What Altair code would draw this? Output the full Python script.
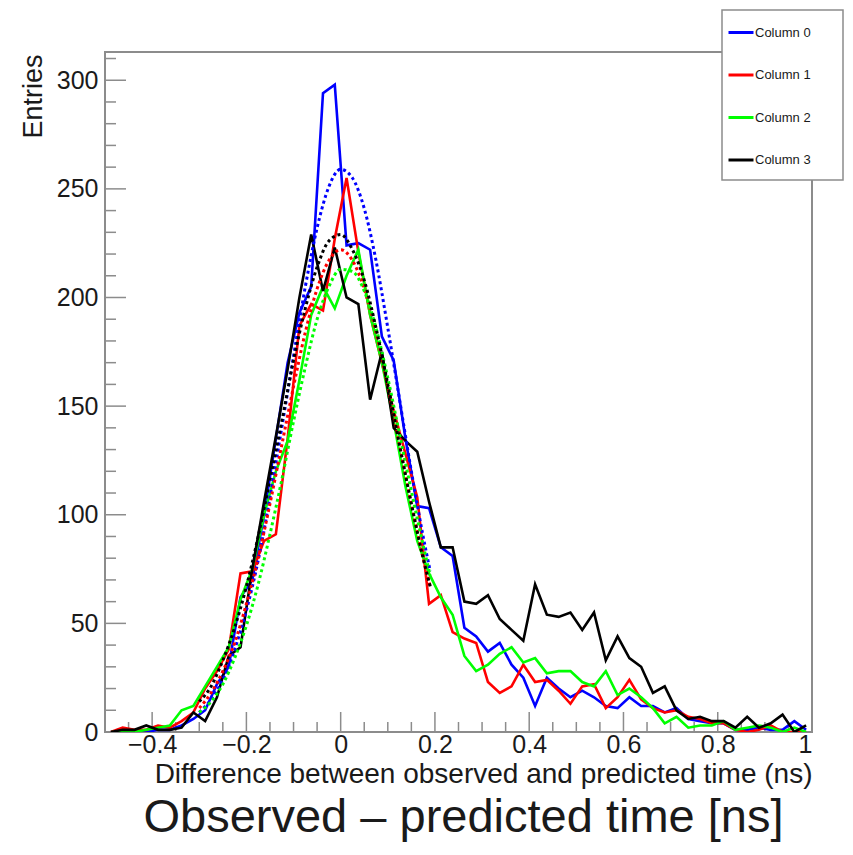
import altair as alt
import pandas as pd

# ---------------- data ----------------
SERIES = ["Column 0", "Column 1", "Column 2", "Column 3"]
COLORS = ["#0000ff", "#ff0000", "#00ff00", "#000000"]

X_MIN, X_MAX, BIN_WIDTH = -0.5, 1.0, 0.025
Y_MAX = 313

COL0 = [0, 1, 0, 0, 1, 1, 3, 6, 10, 22, 30, 62, 70, 100, 135, 170, 193, 205, 294, 298,
        224, 225, 222, 182, 171, 135, 104, 103, 85, 81, 48, 44, 37, 41, 31, 25, 12, 25, 20, 16,
        19, 16, 12, 11, 16, 12, 12, 9, 11, 6, 5, 4, 4, 1, 1, 2, 1, 1, 5, 1]
COL1 = [0, 2, 1, 1, 3, 2, 5, 9, 20, 28, 38, 73, 74, 88, 91, 135, 187, 197, 194, 227,
        255, 221, 192, 170, 148, 128, 108, 59, 63, 46, 43, 41, 23, 18, 21, 31, 23, 24, 19, 13,
        21, 22, 11, 16, 24, 15, 11, 9, 10, 7, 6, 4, 4, 1, 0, 1, 3, 0, 0, 0]
COL2 = [0, 0, 0, 1, 2, 3, 10, 12, 21, 30, 39, 61, 75, 100, 120, 134, 162, 192, 205, 195,
        210, 222, 192, 170, 143, 113, 88, 73, 62, 54, 35, 28, 31, 36, 39, 32, 34, 27, 28, 28,
        23, 21, 28, 17, 20, 16, 11, 4, 7, 2, 3, 3, 5, 1, 2, 3, 2, 0, 2, 0]
COL3 = [0, 1, 1, 3, 1, 1, 2, 9, 5, 16, 35, 39, 75, 106, 136, 167, 200, 229, 203, 223,
        200, 197, 153, 175, 140, 134, 129, 106, 85, 85, 60, 59, 63, 52, 47, 42, 68, 54, 53, 55,
        47, 55, 33, 44, 34, 30, 18, 21, 10, 6, 7, 5, 5, 2, 7, 2, 4, 8, 0, 3]

# dotted fit curves, read at these x positions
FIT_X = [-0.3, -0.275, -0.25, -0.225, -0.2, -0.175, -0.15, -0.125, -0.1, -0.075, -0.05,
         -0.025, 0.0, 0.025, 0.05, 0.075, 0.1, 0.125, 0.15, 0.175, 0.19]
FIT0 = [9, 15, 24, 38, 56, 79, 108, 140, 173, 205, 232, 251, 259, 255, 241, 217, 186, 153, 120, 90, 74]
FIT1 = [11, 18, 28, 41, 59, 80, 105, 132, 159, 184, 204, 217, 222, 217, 204, 184, 159, 132, 105, 80, 67]
FIT2 = [9, 14, 22, 34, 49, 68, 91, 116, 143, 168, 190, 205, 213, 212, 203, 186, 163, 137, 111, 86, 72]
FIT3 = [14, 21, 33, 48, 67, 90, 116, 143, 171, 195, 214, 226, 229, 222, 208, 186, 160, 132, 105, 80, 67]

X_MAJOR = [-0.4, -0.2, 0, 0.2, 0.4, 0.6, 0.8, 1.0]
X_MINOR = [-0.45, -0.35, -0.3, -0.25, -0.15, -0.1, -0.05, 0.05, 0.1, 0.15, 0.25, 0.3, 0.35,
           0.45, 0.5, 0.55, 0.65, 0.7, 0.75, 0.85, 0.9, 0.95]
Y_MAJOR = [0, 50, 100, 150, 200, 250, 300]
Y_MINOR = [10, 20, 30, 40, 60, 70, 80, 90, 110, 120, 130, 140, 160, 170, 180, 190, 210, 220,
           230, 240, 260, 270, 280, 290, 310]

# ---------------- build tables ----------------
centers = [round(X_MIN + BIN_WIDTH * (i + 0.5), 5) for i in range(len(COL0))]
hist_rows = []
for name, vals in zip(SERIES, [COL0, COL1, COL2, COL3]):
    for x, v in zip(centers, vals):
        hist_rows.append({"x": x, "entries": v, "series": name})
hist_df = pd.DataFrame(hist_rows)

W, H = 707, 680
PAD = {"left": 97, "top": 44, "right": 32, "bottom": 110}
FONT = "Liberation Sans"
TXT = "#1a1a1a"
FRAME = "#8c8c8c"

xscale = alt.Scale(domain=[X_MIN, X_MAX], nice=False, zero=False)
yscale = alt.Scale(domain=[0, Y_MAX], nice=False, zero=True)
cscale = alt.Scale(domain=SERIES, range=COLORS)

x_axis = alt.Axis(values=X_MAJOR, format="~g", ticks=False, domain=False, grid=False,
                  labelFont=FONT, labelFontSize=25, labelColor=TXT, labelPadding=0,
                  title="Difference between observed and predicted time (ns)",
                  titleFont=FONT, titleFontSize=28, titleFontWeight="normal", titleColor=TXT,
                  titleAnchor="end", titleAlign="right", titleX=W, titleY=50.7,
                  titleBaseline="alphabetic")
y_axis = alt.Axis(values=Y_MAJOR, ticks=False, domain=False, grid=False,
                  labelFont=FONT, labelFontSize=25, labelColor=TXT, labelPadding=7,
                  title="Entries", titleFont=FONT, titleFontSize=27, titleFontWeight="normal",
                  titleColor=TXT, titleAngle=270, titleAlign="right", titleX=-64, titleY=2,
                  titleBaseline="alphabetic")

hist = alt.Chart(hist_df).mark_line(strokeWidth=2.6, clip=True).encode(
    x=alt.X("x:Q", scale=xscale, axis=x_axis),
    y=alt.Y("entries:Q", scale=yscale, axis=y_axis),
    color=alt.Color("series:N", scale=cscale, sort=SERIES,
                    legend=alt.Legend(title=None, orient="none", legendX=622, legendY=-33.5,
                                      symbolType="stroke", symbolSize=625, symbolStrokeWidth=3,
                                      labelFont=FONT, labelFontSize=13, labelColor=TXT,
                                      labelOffset=0, rowPadding=21.5, padding=0)),
    order=alt.Order("x:Q"),
)

fit_layers = []
for name, col, vals in zip(SERIES, COLORS, [FIT0, FIT1, FIT2, FIT3]):
    df = pd.DataFrame({"x": FIT_X, "fit": vals})
    fit_layers.append(
        alt.Chart(df).mark_line(strokeWidth=3, strokeDash=[3, 3], interpolate="monotone",
                                color=col).encode(
            x=alt.X("x:Q", scale=xscale),
            y=alt.Y("fit:Q", scale=yscale),
        )
    )

# axis ticks (inside the frame, ROOT style)
xmaj = alt.Chart(pd.DataFrame({"t": X_MAJOR})).mark_rule(color=FRAME, strokeWidth=1.5).encode(
    x=alt.X("t:Q", scale=xscale), y=alt.value(H), y2=alt.value(H - 20))
xmin = alt.Chart(pd.DataFrame({"t": X_MINOR})).mark_rule(color=FRAME, strokeWidth=1.5).encode(
    x=alt.X("t:Q", scale=xscale), y=alt.value(H), y2=alt.value(H - 10))
ymaj = alt.Chart(pd.DataFrame({"t": Y_MAJOR})).mark_rule(color=FRAME, strokeWidth=1.5).encode(
    y=alt.Y("t:Q", scale=yscale), x=alt.value(0), x2=alt.value(21))
ymin = alt.Chart(pd.DataFrame({"t": Y_MINOR})).mark_rule(color=FRAME, strokeWidth=1.5).encode(
    y=alt.Y("t:Q", scale=yscale), x=alt.value(0), x2=alt.value(11))

legend_box = alt.Chart(alt.Data(values=[{"box": 1}])).mark_rect(
    fill="white", stroke=FRAME, strokeWidth=1.5).encode(
    x=alt.value(617), x2=alt.value(W + PAD["right"] - 1), y=alt.value(-42), y2=alt.value(128))

chart = alt.layer(xmaj, xmin, ymaj, ymin, hist, *fit_layers, legend_box).properties(
    width=W, height=H,
    title=alt.TitleParams("Observed – predicted time [ns]", orient="bottom", anchor="middle",
                          font=FONT, fontSize=47, fontWeight="normal", color=TXT,
                          offset=6, dx=5),
    autosize=alt.AutoSizeParams(type="none"),
    padding=PAD,
    background="white",
).configure_view(stroke=FRAME, strokeWidth=2)

chart.save("out.html", embed_options={"renderer": "svg", "actions": False})
